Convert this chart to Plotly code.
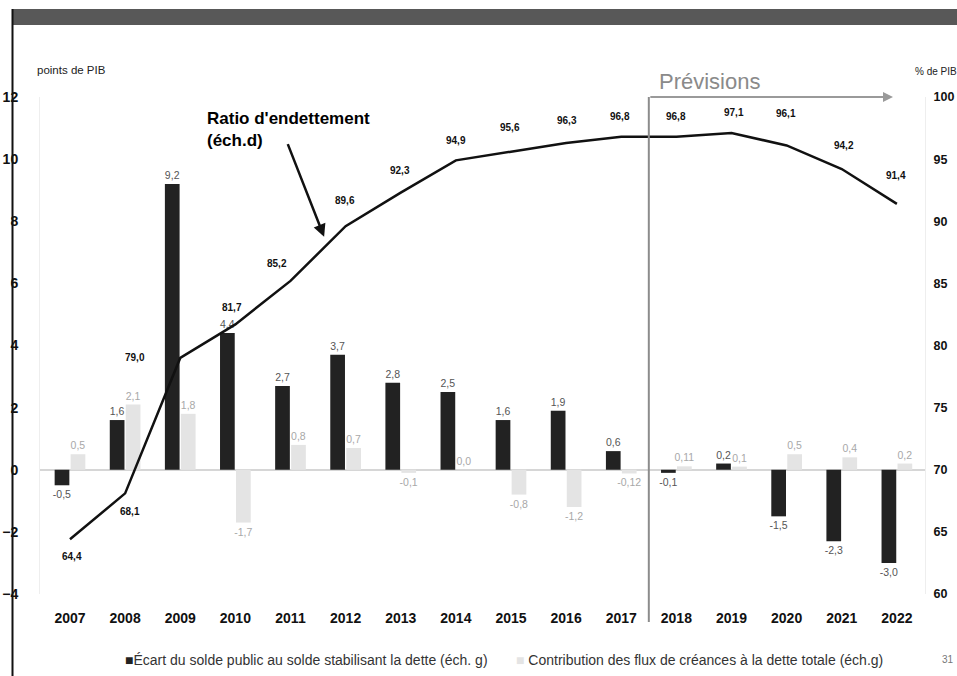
import plotly.graph_objects as go

# Data (points de PIB / % de PIB)
years = list(range(2007, 2023))
ecart_solde = [-0.5, 1.6, 9.2, 4.4, 2.7, 3.7, 2.8, 2.5, 1.6, 1.9, 0.6, -0.1, 0.2, -1.5, -2.3, -3.0]
contrib_flux = [0.5, 2.1, 1.8, -1.7, 0.8, 0.7, -0.1, 0.0, -0.8, -1.2, -0.12, 0.11, 0.1, 0.5, 0.4, 0.2]
ratio_dette = [64.4, 68.1, 79.0, 81.7, 85.2, 89.6, 92.3, 94.9, 95.6, 96.3, 96.8, 96.8, 97.1, 96.1, 94.2, 91.4]
left_ticks = [-4, -2, 0, 2, 4, 6, 8, 10, 12]
right_ticks = [60, 65, 70, 75, 80, 85, 90, 95, 100]
forecast_start = 2017.5

# pixel offsets of the debt-ratio labels relative to their points (dx, dy upward)
ratio_label_shift = [(2, -17), (5, -18), (-45, 0), (-3, 17), (-13, 17), (-1, 26), (-1, 22), (0, 20),
                     (-1, 24), (1, 22), (-1, 20), (0, 20), (2, 21), (-1, 32), (2, 24), (-1, 28)]

NARROW = "Liberation Sans Narrow, Arial Narrow, Liberation Sans, sans-serif"
ARIAL = "Liberation Sans, Arial, sans-serif"

W, H = 957, 676
ML, MR, MT, MB = 40, 32, 97, 82
PW, PH = W - ML - MR, H - MT - MB


def fr(v):
    s = f"{v:.2f}"
    if s.endswith("0"):
        s = s[:-1]
    return s.replace(".", ",")


def px_x(px):
    return (px - ML) / PW


def px_y(py):
    return (H - MB - py) / PH


fig = go.Figure()

fig.add_trace(go.Bar(
    x=years, y=ecart_solde, name="Écart du solde public au solde stabilisant la dette (éch. g)",
    marker=dict(color="#222222", line=dict(width=0)),
    text=[fr(v) for v in ecart_solde], textposition="outside", constraintext="none",
    outsidetextfont=dict(family=NARROW, size=10.5, color="#555555"),
    cliponaxis=False, showlegend=False,
))
fig.add_trace(go.Bar(
    x=years, y=contrib_flux, name="Contribution des flux de créances à la dette totale (éch.g)",
    marker=dict(color="#e4e4e4", line=dict(width=0)),
    text=[fr(v) for v in contrib_flux], textposition="outside", constraintext="none",
    outsidetextfont=dict(family=NARROW, size=10.5, color="#a8a8a8"),
    cliponaxis=False, showlegend=False,
))
fig.add_trace(go.Scatter(
    x=years, y=ratio_dette, yaxis="y2", mode="lines", name="Ratio d'endettement",
    line=dict(color="#111111", width=2.5), showlegend=False,
))

annotations = []
for yr, v, (dx, dy) in zip(years, ratio_dette, ratio_label_shift):
    annotations.append(dict(
        x=yr, y=v, xref="x", yref="y2", text=f"<b>{fr(v)}</b>", showarrow=False,
        xshift=dx, yshift=dy, font=dict(family=NARROW, size=10, color="#111111"),
    ))

# forecast marker
annotations.append(dict(
    x=2021.93, y=12, xref="x", yref="y", ax=forecast_start, ay=12, axref="x", ayref="y",
    text="", showarrow=True, arrowhead=2, arrowsize=1, arrowwidth=2, arrowcolor="#9a9a9a",
))
annotations.append(dict(
    x=forecast_start + 0.15, y=px_y(82), xref="x", yref="paper", text="Prévisions",
    xanchor="left", yanchor="middle", showarrow=False,
    font=dict(family=ARIAL, size=22, color="#8a8a8a"),
))

# callout for the debt ratio line
annotations.append(dict(
    x=px_x(205), y=px_y(129), xref="paper", yref="paper",
    text="<b>Ratio d'endettement<br>(éch.d)</b>", align="left", xanchor="left", yanchor="middle",
    showarrow=False, font=dict(family=ARIAL, size=17, color="#000000"),
))
annotations.append(dict(
    x=2011.61, y=7.5, xref="x", yref="y", ax=2010.94, ay=10.53, axref="x", ayref="y",
    text="", showarrow=True, arrowhead=2, arrowsize=1, arrowwidth=2.5, arrowcolor="#111111",
))

# axis units
annotations.append(dict(
    x=px_x(35), y=px_y(70), xref="paper", yref="paper", text="points de PIB",
    xanchor="left", yanchor="middle", showarrow=False,
    font=dict(family=ARIAL, size=11.5, color="#222222"),
))
annotations.append(dict(
    x=px_x(913), y=px_y(71), xref="paper", yref="paper", text="% de PIB",
    xanchor="left", yanchor="middle", showarrow=False,
    font=dict(family=ARIAL, size=10, color="#222222"),
))

# legend
annotations.append(dict(
    x=px_x(123), y=px_y(660), xref="paper", yref="paper",
    text="<span style='color:#222222'>■</span>Écart du solde public au solde stabilisant la dette (éch. g)",
    xanchor="left", yanchor="middle", showarrow=False,
    font=dict(family=NARROW, size=14, color="#333333"),
))
annotations.append(dict(
    x=px_x(514), y=px_y(660), xref="paper", yref="paper",
    text="<span style='color:#e4e4e4'>■</span> Contribution des flux de créances à la dette totale (éch.g)",
    xanchor="left", yanchor="middle", showarrow=False,
    font=dict(family=NARROW, size=14, color="#333333"),
))
annotations.append(dict(
    x=px_x(940), y=px_y(659), xref="paper", yref="paper", text="31",
    xanchor="left", yanchor="middle", showarrow=False,
    font=dict(family=NARROW, size=10, color="#777777"),
))

shapes = [
    # header band
    dict(type="rect", xref="paper", yref="paper", x0=px_x(12), x1=px_x(957), y0=px_y(25), y1=px_y(9),
         fillcolor="#585858", line=dict(width=0), layer="above"),
    # page frame line
    dict(type="line", xref="paper", yref="paper", x0=px_x(12.5), x1=px_x(12.5), y0=px_y(676), y1=px_y(9),
         line=dict(color="#111111", width=2), layer="above"),
    # forecast separator
    dict(type="line", xref="x", yref="paper", x0=forecast_start, x1=forecast_start,
         y0=px_y(622), y1=1.0, line=dict(color="#8c8c8c", width=2), layer="above"),
]

fig.update_layout(
    width=W, height=H,
    margin=dict(l=ML, r=MR, t=MT, b=MB, pad=0, autoexpand=False),
    paper_bgcolor="white", plot_bgcolor="white",
    barmode="group", bargap=0.42, bargroupgap=0.08,
    font=dict(family=NARROW, color="#222222"),
    xaxis=dict(
        range=[2006.456, 2022.51], tickmode="array", tickvals=years, ticktext=[str(y) for y in years],
        showgrid=False, zeroline=False, showline=False, ticks="", automargin=False,
        tickfont=dict(family=NARROW, size=14, color="#111111", weight="bold"),
        ticklabelstandoff=14,
    ),
    yaxis=dict(
        range=[-4, 12], tickmode="array", tickvals=left_ticks, showgrid=False,
        zeroline=True, zerolinecolor="#d6d6d6", zerolinewidth=1.5, automargin=False,
        showline=True, linecolor="#eeeeee", linewidth=1, ticks="",
        tickfont=dict(family=NARROW, size=14, color="#111111", weight="bold"),
        ticklabelstandoff=18,
    ),
    yaxis2=dict(
        range=[60, 100], tickmode="array", tickvals=right_ticks, overlaying="y", side="right",
        showgrid=False, zeroline=False, showline=True, linecolor="#eeeeee", linewidth=1, ticks="",
        automargin=False,
        tickfont=dict(family=NARROW, size=12.5, color="#111111", weight="bold"),
        ticklabelstandoff=5,
    ),
    annotations=annotations,
    shapes=shapes,
)

fig.write_html("out.html")
